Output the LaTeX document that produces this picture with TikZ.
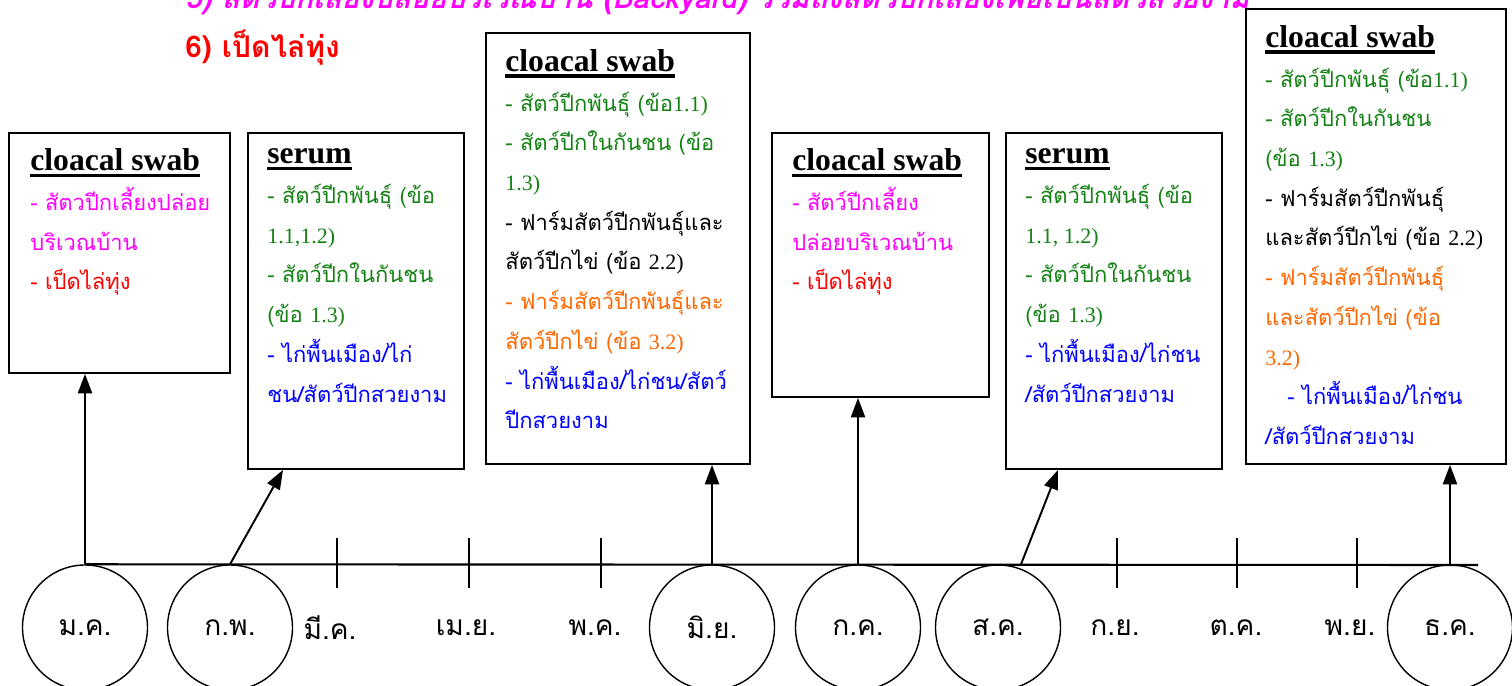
\documentclass[tikz,border=0pt]{standalone}
\usepackage{fontspec}
\setmainfont{Liberation Serif}
\newfontfamily\thaifont[Script=Thai]{Loma}
\usetikzlibrary{arrows.meta, calc, positioning}

\definecolor{mag}{RGB}{255,0,255}
\definecolor{rd}{RGB}{255,0,0}
\definecolor{grn}{RGB}{20,130,20}
\definecolor{blu}{RGB}{0,0,255}
\definecolor{org}{RGB}{255,102,0}

\newcommand{\nm}[1]{{\rmfamily #1}}
\newcommand{\hd}[1]{{\rmfamily\bfseries\fontsize{18}{22}\selectfont
  \setbox0\hbox{#1}\rlap{\rule[-3.6pt]{\wd0}{1.8pt}}\box0}}

\tikzset{
  samplebox/.style={draw, line width=1.1pt, anchor=north west, inner sep=0pt},
  boxtext/.style={anchor=north west, align=left, inner sep=0pt,
    font=\thaifont\fontsize{12.5}{22.6}\selectfont},
  monthcirc/.style={draw, circle, line width=0.8pt, minimum size=2.5cm, inner sep=0pt,
    font=\thaifont\fontsize{16}{18}\selectfont},
  monthlbl/.style={inner sep=0pt, font=\thaifont\fontsize{16}{18}\selectfont},
  uparrow/.style={-{Triangle[width=8pt,length=11pt]}, line width=1.1pt}
}

\begin{document}
\begin{tikzpicture}
\useasboundingbox (0,0) rectangle (30.24,13.72);

%heading lines
\node[anchor=base west, inner sep=0pt, text=mag, font=\thaifont\bfseries\itshape\fontsize{17}{20}\selectfont]
  (item5) at (3.70,13.54) {5) สัตว์ปีกเลี้ยงปล่อยบริเวณบ้าน (Backyard) รวมถึงสัตว์ปีกเลี้ยงเพื่อเป็นสัตว์สวยงาม};
\node[anchor=base west, inner sep=0pt, text=rd, font=\thaifont\bfseries\fontsize{17}{20}\selectfont]
  (item6) at (3.70,12.56) {6) เป็ดไล่ทุ่ง};

%months
\node[monthcirc] (jan) at (1.70,1.17) {ม.ค.};
\node[monthcirc] (feb) at (4.60,1.17) {ก.พ.};
\node[monthlbl] (mar) at (6.60,1.16) {มี.ค.};
\node[monthlbl] (apr) at (9.32,1.16) {เม.ย.};
\node[monthlbl] (may) at (11.90,1.16) {พ.ค.};
\node[monthcirc] (jun) at (14.24,1.17) {มิ.ย.};
\node[monthcirc] (jul) at (17.16,1.17) {ก.ค.};
\node[monthcirc] (aug) at (19.96,1.17) {ส.ค.};
\node[monthlbl] (sep) at (22.30,1.16) {ก.ย.};
\node[monthlbl] (oct) at (24.72,1.16) {ต.ค.};
\node[monthlbl] (nov) at (27.00,1.16) {พ.ย.};
\node[monthcirc] (dec) at (29.00,1.17) {ธ.ค.};

%time line
\coordinate (line end) at (29.56,2.42);
\draw[line width=1.2pt] (jan.north) -- (line end);
\foreach \x in {6.74, 9.38, 12.02, 22.34, 24.74, 27.14}
  \draw[line width=0.8pt] (\x,1.96) -- (\x,2.96);

%boxes
\node[samplebox, minimum width=4.42cm, minimum height=4.80cm] (jan box) at (0.16,11.08) {};
\node[samplebox, minimum width=4.32cm, minimum height=6.72cm] (feb box) at (4.94,11.08) {};
\node[samplebox, minimum width=5.28cm, minimum height=8.62cm] (jun box) at (9.70,13.08) {};
\node[samplebox, minimum width=4.34cm, minimum height=5.28cm] (jul box) at (15.42,11.08) {};
\node[samplebox, minimum width=4.32cm, minimum height=6.72cm] (aug box) at (20.10,11.08) {};
\node[samplebox, minimum width=5.20cm, minimum height=9.10cm] (dec box) at (24.90,13.56) {};

\node[boxtext] (jan txt) at ($(jan box.north west)+(0.44,-0.33)$) {\hd{cloacal swab}\\
  \textcolor{mag}{- สัตวปีกเลี้ยงปล่อย}\\
  \textcolor{mag}{บริเวณบ้าน}\\
  \textcolor{rd}{- เป็ดไล่ทุ่ง}};
\node[boxtext] (feb txt) at ($(feb box.north west)+(0.40,-0.33)$) {\hd{serum}\\
  \textcolor{grn}{- สัตว์ปีกพันธุ์ (ข้อ}\\
  \textcolor{grn}{\nm{1.1,1.2)}}\\
  \textcolor{grn}{- สัตว์ปีกในกันชน}\\
  \textcolor{grn}{(ข้อ \nm{1.3)}}\\
  \textcolor{blu}{- ไก่พื้นเมือง/ไก่}\\
  \textcolor{blu}{ชน/สัตว์ปีกสวยงาม}};
\node[boxtext] (jun txt) at ($(jun box.north west)+(0.40,-0.34)$) {\hd{cloacal swab}\\
  \textcolor{grn}{- สัตว์ปีกพันธุ์ (ข้อ\nm{1.1)}}\\
  \textcolor{grn}{- สัตว์ปีกในกันชน (ข้อ}\\
  \textcolor{grn}{\nm{1.3)}}\\
  - ฟาร์มสัตว์ปีกพันธุ์และ\\
  สัตว์ปีกไข่ (ข้อ \nm{2.2)}\\
  \textcolor{org}{- ฟาร์มสัตว์ปีกพันธุ์และ}\\
  \textcolor{org}{สัตว์ปีกไข่ (ข้อ \nm{3.2)}}\\
  \textcolor{blu}{- ไก่พื้นเมือง/ไก่ชน/สัตว์}\\
  \textcolor{blu}{ปีกสวยงาม}};
\node[boxtext] (jul txt) at ($(jul box.north west)+(0.42,-0.33)$) {\hd{cloacal swab}\\
  \textcolor{mag}{- สัตว์ปีกเลี้ยง}\\
  \textcolor{mag}{ปล่อยบริเวณบ้าน}\\
  \textcolor{rd}{- เป็ดไล่ทุ่ง}};
\node[boxtext] (aug txt) at ($(aug box.north west)+(0.40,-0.33)$) {\hd{serum}\\
  \textcolor{grn}{- สัตว์ปีกพันธุ์ (ข้อ}\\
  \textcolor{grn}{\nm{1.1, 1.2)}}\\
  \textcolor{grn}{- สัตว์ปีกในกันชน}\\
  \textcolor{grn}{(ข้อ \nm{1.3)}}\\
  \textcolor{blu}{- ไก่พื้นเมือง/ไก่ชน}\\
  \textcolor{blu}{/สัตว์ปีกสวยงาม}};
\node[boxtext] (dec txt) at ($(dec box.north west)+(0.40,-0.34)$) {\hd{cloacal swab}\\
  \textcolor{grn}{- สัตว์ปีกพันธุ์ (ข้อ\nm{1.1)}}\\
  \textcolor{grn}{- สัตว์ปีกในกันชน}\\
  \textcolor{grn}{(ข้อ \nm{1.3)}}\\
  - ฟาร์มสัตว์ปีกพันธุ์\\
  และสัตว์ปีกไข่ (ข้อ \nm{2.2)}\\
  \textcolor{org}{- ฟาร์มสัตว์ปีกพันธุ์}\\
  \textcolor{org}{และสัตว์ปีกไข่ (ข้อ}\\
  \textcolor{org}{\nm{3.2)}}\\
  \textcolor{blu}{\quad- ไก่พื้นเมือง/ไก่ชน}\\
  \textcolor{blu}{/สัตว์ปีกสวยงาม}};

%arrows
\draw[uparrow] (jan.north) -- (jan box.south -| jan.north);
\draw[uparrow] (feb.north) -- ($(feb box.south west)+(0.72,0)$);
\draw[uparrow] (jun.north) -- (jun box.south -| jun.north);
\draw[uparrow] (jul.north) -- (jul box.south -| jul.north);
\draw[uparrow] ($(aug.north)+(0.46,0)$) -- ($(aug box.south west)+(1.06,0)$);
\draw[uparrow] (dec.north) -- (dec box.south -| dec.north);
\end{tikzpicture}
\end{document}
